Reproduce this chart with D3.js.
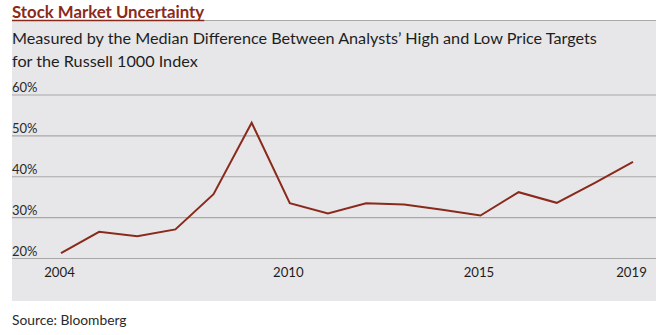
<!DOCTYPE html>
<html>
<head>
<meta charset="utf-8">
<script src="https://cdn.jsdelivr.net/npm/d3@7"></script>
<style>
  html, body { margin: 0; padding: 0; background: #fff; }
  svg { display: block; font-family: Lato, "Noto Sans", sans-serif; }
</style>
</head>
<body>
<svg id="chart" width="666" height="335"></svg>
<script>
// Median spread between analysts' high and low price targets, Russell 1000
var years = [2004, 2005, 2006, 2007, 2008, 2009, 2010, 2011, 2012, 2013, 2014, 2015, 2016, 2017, 2018, 2019];
var spreadPct = [21.2, 26.4, 25.3, 27.0, 35.6, 53.1, 33.4, 30.9, 33.4, 33.1, 31.8, 30.4, 36.1, 33.5, 38.4, 43.5];
var yTicks = [20, 30, 40, 50, 60];
var xTicks = [2004, 2010, 2015, 2019];

var title = 'Stock Market Uncertainty';
var subtitleLines = [
    'Measured by the Median Difference Between Analysts\u2019 High and Low Price Targets',
    'for the Russell 1000 Index'
];
var source = 'Source: Bloomberg';

var svg = d3.select('#chart');

var panel = {left: 12, right: 656, top: 20, bottom: 301};
var lineColor = '#8a2a1c';

// grey background panel
svg.append('rect')
    .attr('x', panel.left)
    .attr('y', panel.top)
    .attr('width', panel.right - panel.left)
    .attr('height', panel.bottom - panel.top)
    .attr('fill', '#e7e7e9');

svg.append('line')
    .attr('x1', panel.left).attr('x2', panel.right)
    .attr('y1', panel.top + 0.5).attr('y2', panel.top + 0.5)
    .attr('stroke', '#a9a9a9')
    .attr('stroke-width', 1.2);

// title, with a red rule underneath
var titleText = svg.append('text')
    .attr('x', panel.left)
    .attr('y', 18)
    .attr('fill', lineColor)
    .attr('font-size', 16.8)
    .attr('font-weight', 'bold')
    .text(title);
var titleWidth = titleText.node().getComputedTextLength();
svg.append('line')
    .attr('x1', panel.left).attr('x2', panel.left + titleWidth)
    .attr('y1', panel.top + 0.5).attr('y2', panel.top + 0.5)
    .attr('stroke', lineColor)
    .attr('stroke-width', 1.5);

svg.append('g')
    .selectAll('text')
    .data(subtitleLines)
    .join('text')
    .attr('x', panel.left)
    .attr('y', function(d, i) { return 44 + i * 23; })
    .attr('fill', '#1e1e1e')
    .attr('font-size', 16.2)
    .text(function(d) { return d; });

var x = d3.scaleLinear().domain([2004, 2019]).range([61, 633]);
var y = d3.scaleLinear().domain([20, 60]).range([258, 94.5]);

// horizontal grid lines drawn through a left axis
var yAxis = d3.axisLeft(y)
    .tickValues(yTicks)
    .tickSize(-(panel.right - panel.left))
    .tickFormat(function(d) { return d + '%'; });

var gy = svg.append('g')
    .attr('transform', 'translate(' + panel.left + ',0)')
    .call(yAxis);
gy.select('.domain').remove();
gy.selectAll('.tick line')
    .attr('stroke', '#a8a8a8')
    .attr('stroke-width', 1.2);
gy.selectAll('.tick text')
    .attr('x', 0)
    .attr('dy', -3)
    .attr('text-anchor', 'start')
    .attr('fill', '#2a2a2a')
    .attr('font-size', 13)
    .attr('font-family', 'Lato, "Noto Sans", sans-serif');

var xAxis = d3.axisBottom(x)
    .tickValues(xTicks)
    .tickSize(0)
    .tickFormat(d3.format('d'));

var gx = svg.append('g')
    .attr('transform', 'translate(-2,' + 265 + ')')
    .call(xAxis);
gx.select('.domain').remove();
gx.selectAll('.tick text')
    .attr('fill', '#1e1e1e')
    .attr('font-size', 13.2)
    .attr('font-family', 'Lato, "Noto Sans", sans-serif');

var points = years.map(function(yr, i) { return {year: yr, value: spreadPct[i]}; });

var line = d3.line()
    .x(function(d) { return x(d.year); })
    .y(function(d) { return y(d.value); });

svg.append('path')
    .datum(points)
    .attr('d', line)
    .attr('fill', 'none')
    .attr('stroke', lineColor)
    .attr('stroke-width', 2)
    .attr('stroke-linejoin', 'miter');

svg.append('text')
    .attr('x', panel.left)
    .attr('y', 325)
    .attr('fill', '#2a2a2a')
    .attr('font-size', 13.8)
    .text(source);
</script>
</body>
</html>
